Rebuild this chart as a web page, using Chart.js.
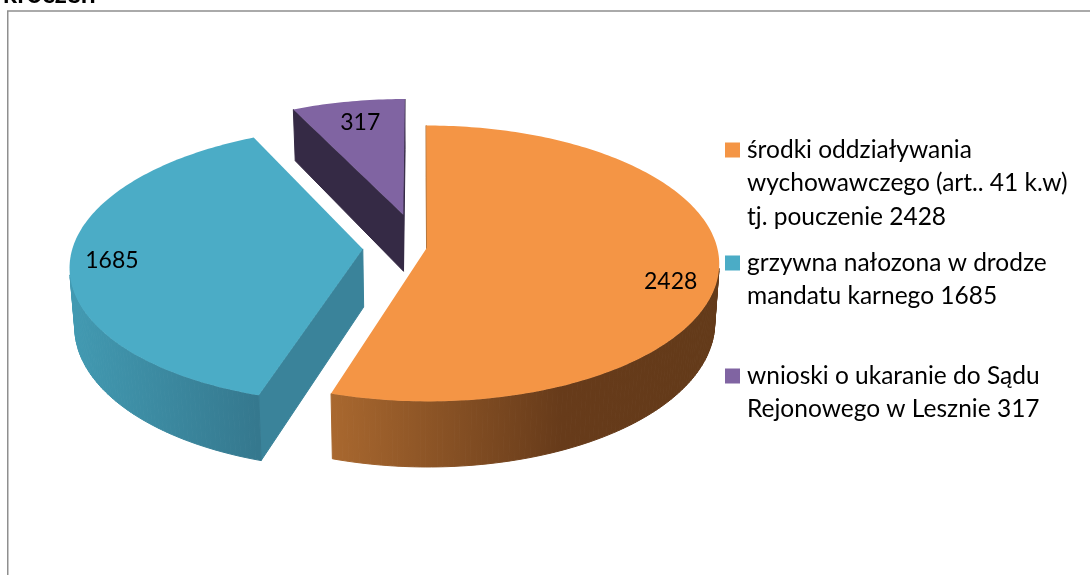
<!DOCTYPE html>
<html lang="pl">
<head>
<meta charset="utf-8">
<style>
html,body{margin:0;padding:0;background:#fff;overflow:hidden;width:1090px;height:575px}
#wrap{position:absolute;left:0;top:-20px;width:1090px;height:595px}
</style>
<script src="https://cdn.jsdelivr.net/npm/chart.js@4"></script>
</head>
<body>
<div id="wrap"><canvas id="c" width="1090" height="595"></canvas></div>
<script>
const categories = [
  ["środki oddziaływania", "wychowawczego (art.. 41 k.w)", "tj. pouczenie 2428"],
  ["grzywna nałozona w drodze", "mandatu karnego 1685", ""],
  ["wnioski o ukaranie do Sądu", "Rejonowego w Lesznie 317", ""]
];
const values = [2428, 1685, 317];
const titleText = "kroczeń";
const colors = ["#F49545", "#4BACC6", "#8064A2"];

// exploded-pie look
const explode = [0.028, 0.194, 0.25];
const radialWall = ["#B5763C", "#3A839A", "#352A45"];
const outerWall = [
  [[331, "#A9682F"], [560, "#673B1A"], [719, "#633A19"]],
  [[70, "#429AB2"], [258, "#35788E"]],
  [[290, "#352A45"], [405, "#352A45"]]
];
const labelRadius = [0.84, 0.865, 0.80];
const labelDy = [17, 3, 0];
const labelDx = [-1, 2, 2];
const view = {a: 290, b: 136, p: 0.115, h: 58, shrink: 0.015};
const uiFont = "Lato, Carlito, 'Open Sans', sans-serif";

function project(cx, cy, u, v, h) {
  const w = 1 / (1 - view.p * v);
  const s = 1 - view.shrink * h / view.h;
  return {x: cx + view.a * u * w * s, y: cy + (view.b * v + h) * w};
}
function poly(ctx, pts) {
  ctx.beginPath();
  pts.forEach((p, i) => i ? ctx.lineTo(p.x, p.y) : ctx.moveTo(p.x, p.y));
  ctx.closePath();
}
function area(pts) {
  let s = 0;
  pts.forEach((p, i) => { const q = pts[(i + 1) % pts.length]; s += p.x * q.y - q.x * p.y; });
  return s;
}

const pie3d = {
  id: "pie3d",
  afterLayout(chart) {
    const lg = chart.legend, w = lg.width, h = lg.height;
    lg.left = 717.75; lg.right = lg.left + w; lg.top = 145.25; lg.bottom = lg.top + h;
    const t = chart.titleBlock;
    t.left = 3; t.right = 1090;
  },
  beforeDraw(chart) {
    const ctx = chart.ctx;
    ctx.save();
    ctx.fillStyle = "#fff";
    ctx.fillRect(0, 0, chart.width, chart.height);
    ctx.strokeStyle = "#8f8f8f";
    ctx.lineWidth = 1.5;
    ctx.strokeRect(7.75, 31, 1200, 700);
    ctx.restore();
  },
  beforeDatasetDraw(chart, args) {
    const ctx = chart.ctx, arcs = args.meta.data;
    ctx.save();
    for (let i = arcs.length - 1; i >= 0; i--) {
      const el = arcs[i];
      const mid = (el.startAngle + el.endAngle) / 2;
      const ou = Math.cos(mid) * explode[i], ov = Math.sin(mid) * explode[i];
      const top = [], bot = [];
      const add = (u, v) => {
        top.push(project(el.x, el.y, ou + u, ov + v, 0));
        bot.push(project(el.x, el.y, ou + u, ov + v, view.h));
      };
      add(0, 0);
      const n = Math.ceil((el.endAngle - el.startAngle) * 180 / Math.PI);
      for (let k = 0; k <= n; k++) {
        const t = el.startAngle + (el.endAngle - el.startAngle) * k / n;
        add(Math.cos(t), Math.sin(t));
      }
      const g = ctx.createLinearGradient(outerWall[i][0][0], 0, outerWall[i][outerWall[i].length - 1][0], 0);
      const x0 = outerWall[i][0][0], x1 = outerWall[i][outerWall[i].length - 1][0];
      outerWall[i].forEach(s => g.addColorStop((s[0] - x0) / (x1 - x0), s[1]));
      ctx.lineWidth = 1;
      for (let k = 0; k < top.length; k++) {
        const m = (k + 1) % top.length;
        const quad = [top[k], top[m], bot[m], bot[k]];
        if (area(quad) >= 0) continue;
        const radial = k === 0 || m === 0;
        ctx.fillStyle = ctx.strokeStyle = radial ? radialWall[i] : g;
        poly(ctx, quad);
        ctx.fill();
        ctx.stroke();
      }
      ctx.fillStyle = el.options.backgroundColor;
      poly(ctx, top);
      ctx.fill();
    }
    ctx.fillStyle = "#000";
    ctx.font = "23px " + uiFont;
    ctx.textAlign = "center";
    ctx.textBaseline = "middle";
    arcs.forEach((el, i) => {
      const mid = (el.startAngle + el.endAngle) / 2;
      const r = labelRadius[i];
      const p = project(el.x, el.y,
        Math.cos(mid) * (explode[i] + r), Math.sin(mid) * (explode[i] + r), 0);
      ctx.fillText(String(values[i]), p.x + labelDx[i], p.y + labelDy[i]);
    });
    ctx.restore();
    return false;
  }
};

new Chart(document.getElementById("c"), {
  type: "pie",
  data: {
    labels: categories,
    datasets: [{data: values, backgroundColor: colors, borderWidth: 0}]
  },
  plugins: [pie3d],
  options: {
    responsive: false,
    animation: false,
    events: [],
    layout: {padding: {left: 0, right: 252, top: 0, bottom: 89}},
    plugins: {
      tooltip: {enabled: false},
      title: {
        display: true, text: titleText, align: "start", color: "#000",
        font: {family: uiFont, size: 26.5, weight: "bold", lineHeight: 1},
        padding: {top: 1.5, bottom: 0}
      },
      legend: {
        display: true, position: "chartArea", align: "start",
        labels: {
          boxWidth: 4.5, boxHeight: 4.5, padding: 12.5, color: "#000",
          font: {family: uiFont, size: 24.5, lineHeight: 33.5 / 24.5},
          textAlign: "left",
          generateLabels(chart) {
            return categories.map((text, i) => ({
              text, fillStyle: colors[i], strokeStyle: colors[i],
              lineWidth: 10.5, hidden: false, index: i
            }));
          }
        }
      }
    }
  }
});
</script>
</body>
</html>
